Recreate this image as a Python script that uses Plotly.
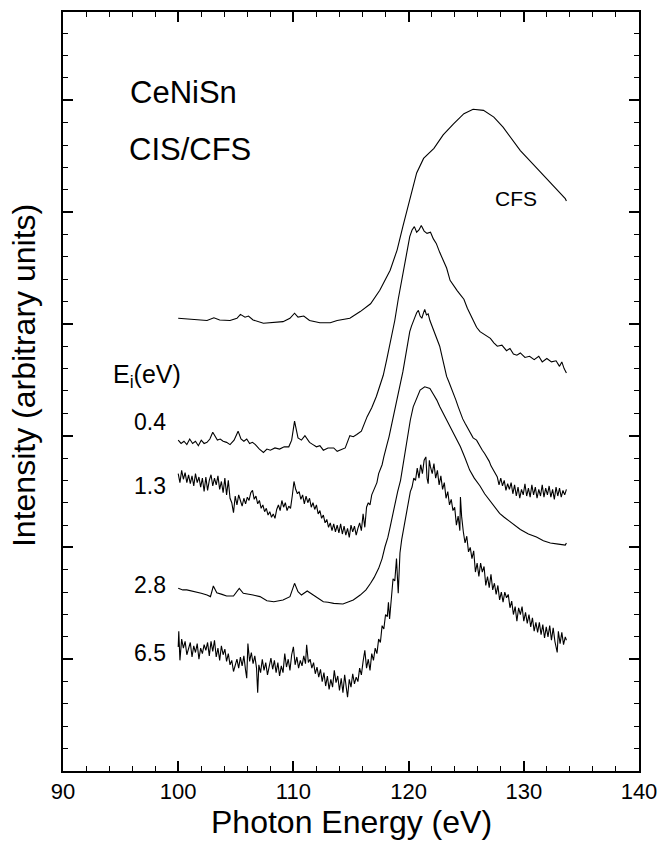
import plotly.graph_objects as go

# ---- data (photon energy in eV, intensity in arbitrary offset units) ----
x_cfs = [100.0, 101.6, 102.5, 103.1, 103.6, 104.5, 105.1, 105.4, 105.8, 106.1, 106.5, 107.4, 108.3, 109.1,
         109.7, 110.1, 110.4, 110.9, 111.4, 112.3, 113.2, 113.8, 114.9, 115.8, 116.7, 117.5, 118.4, 119.0,
         119.5, 120.1, 120.7, 121.3, 122.2, 123.0, 123.9, 124.8, 125.6, 126.5, 127.4, 128.2, 129.1, 129.7,
         130.8, 131.8, 132.7, 133.6, 133.7]
y_cfs = [4.05, 4.04, 4.03, 4.055, 4.035, 4.03, 4.05, 4.085, 4.06, 4.07, 4.035, 4.005, 4.01, 4.02,
         4.05, 4.095, 4.06, 4.07, 4.03, 4.01, 4.01, 4.03, 4.05, 4.11, 4.18, 4.30, 4.48, 4.66,
         4.87, 5.11, 5.35, 5.48, 5.57, 5.69, 5.79, 5.88, 5.92, 5.91, 5.85, 5.76, 5.64, 5.55,
         5.43, 5.32, 5.22, 5.12, 5.10]

x_04 = [100.0, 100.25, 100.5, 100.75, 101.0, 101.25, 101.5, 101.75, 102.0, 102.25, 102.5, 102.75, 103.0,
        103.2, 103.4, 103.65, 103.9, 104.2, 104.5, 104.85, 105.2, 105.45, 105.7, 105.95, 106.2, 106.45, 106.7,
        107.05, 107.4, 107.7, 108.0, 108.4, 108.8, 109.2, 109.6, 109.85, 110.1, 110.4, 110.7, 111.0, 111.2,
        111.4, 111.7, 112.0, 112.3, 112.6, 113.0, 113.5, 113.8, 114.1, 114.5, 114.9, 115.2, 115.5,
        115.9, 116.4, 116.8, 117.2, 117.5, 117.8, 118.1, 118.4, 118.8, 119.1, 119.5, 119.8, 120.1, 120.3,
        120.5, 120.7, 120.9, 121.1, 121.35, 121.6, 121.9, 122.15, 122.4, 122.7, 123.0,
        123.3, 123.6, 123.9, 124.2, 124.5, 124.8, 125.1, 125.5, 125.9, 126.2, 126.6, 127.1, 127.4, 127.7,
        128.1, 128.5, 128.8, 129.1, 129.4, 129.7, 130.1, 130.5, 130.9, 131.3, 131.6, 132.0, 132.4, 132.8,
        133.1, 133.3, 133.5, 133.7]
y_04 = [2.96, 2.93, 2.95, 2.92, 2.97, 2.93, 2.95, 2.91, 2.96, 2.93, 2.94, 2.97, 3.03,
        2.99, 2.96, 2.97, 2.95, 2.94, 2.92, 2.96, 3.04, 2.97, 2.95, 2.97, 2.93, 2.94, 2.92,
        2.88, 2.85, 2.88, 2.87, 2.89, 2.88, 2.90, 2.90, 2.96, 3.13, 2.98, 2.96, 3.00, 2.97,
        2.94, 2.92, 2.90, 2.91, 2.87, 2.89, 2.89, 2.86, 2.87, 2.89, 3.00, 2.99, 3.01,
        3.04, 3.17, 3.25, 3.35, 3.44, 3.54, 3.68, 3.83, 4.03, 4.22, 4.45, 4.62, 4.78, 4.84,
        4.87, 4.82, 4.84, 4.88, 4.83, 4.81, 4.82, 4.76, 4.72, 4.64, 4.57,
        4.50, 4.39, 4.34, 4.30, 4.26, 4.22, 4.14, 4.06, 3.97, 3.93, 3.90, 3.87, 3.83, 3.80,
        3.81, 3.76, 3.78, 3.73, 3.72, 3.74, 3.70, 3.71, 3.68, 3.71, 3.66, 3.69, 3.66, 3.67,
        3.62, 3.66, 3.60, 3.56]

x_13 = [100.0, 100.15, 100.3, 100.45, 100.6, 100.75, 100.9, 101.05, 101.2, 101.35, 101.5, 101.65, 101.8, 101.95,
        102.1, 102.25, 102.4, 102.55, 102.7, 102.85, 103.0, 103.15, 103.3, 103.45, 103.6, 103.75, 103.9, 104.05,
        104.2, 104.35, 104.5, 104.65, 104.8, 104.95, 105.1, 105.25, 105.4, 105.55, 105.7, 105.85, 106.0, 106.15,
        106.3, 106.45, 106.6, 106.75, 106.9, 107.05, 107.2, 107.35, 107.5, 107.65, 107.8, 107.95, 108.1, 108.25,
        108.4, 108.55, 108.7, 108.85, 109.0, 109.15, 109.3, 109.45, 109.6, 109.75, 109.9, 110.05, 110.2, 110.35,
        110.5, 110.65, 110.8, 110.95, 111.1, 111.25, 111.4, 111.55, 111.7, 111.85, 112.0, 112.15, 112.3, 112.45,
        112.6, 112.75, 112.9, 113.05, 113.2, 113.35, 113.5, 113.65, 113.8, 113.95, 114.1, 114.25, 114.4, 114.55,
        114.7, 114.85, 115.0, 115.15, 115.3, 115.45, 115.6, 115.75, 115.9, 116.05, 116.2, 116.35, 116.5, 116.65,
        116.8, 116.95, 117.1, 117.25, 117.4, 117.55, 117.7, 117.85, 118.0, 118.15, 118.3, 118.45, 118.6, 118.75,
        118.9, 119.05, 119.2, 119.35, 119.5, 119.65, 119.8, 119.95, 120.1, 120.25, 120.4, 120.55, 120.7, 120.85,
        121.0, 121.15, 121.3, 121.4, 121.55, 121.7, 121.85, 122.0, 122.15, 122.3, 122.5, 122.7, 122.9, 123.1,
        123.3, 123.5, 123.7, 123.9, 124.1, 124.3, 124.5, 124.7, 124.9, 125.05, 125.3, 125.6, 125.9, 126.05,
        126.2, 126.4, 126.6, 126.8, 127.0, 127.15, 127.3, 127.5, 127.7, 127.85, 128.0, 128.15, 128.3, 128.45,
        128.6, 128.75, 128.9, 129.05, 129.2, 129.35, 129.5, 129.65, 129.8, 129.95, 130.1, 130.25, 130.4, 130.55,
        130.7, 130.85, 131.0, 131.15, 131.3, 131.45, 131.6, 131.75, 131.9, 132.05, 132.2, 132.35, 132.5, 132.65,
        132.8, 132.95, 133.1, 133.25, 133.4, 133.55, 133.7]
y_13 = [2.66, 2.58, 2.69, 2.61, 2.67, 2.58, 2.65, 2.57, 2.64, 2.55, 2.66, 2.58, 2.63, 2.54,
        2.62, 2.50, 2.63, 2.51, 2.60, 2.65, 2.55, 2.62, 2.56, 2.64, 2.52, 2.59, 2.49, 2.62,
        2.47, 2.60, 2.44, 2.40, 2.31, 2.46, 2.38, 2.47, 2.42, 2.37, 2.44, 2.39, 2.45, 2.42,
        2.49, 2.51, 2.43, 2.46, 2.39, 2.42, 2.35, 2.38, 2.32, 2.35, 2.29, 2.32, 2.27, 2.30,
        2.26, 2.34, 2.38, 2.33, 2.42, 2.36, 2.40, 2.33, 2.37, 2.35, 2.46, 2.59, 2.52, 2.48,
        2.50, 2.43, 2.47, 2.39, 2.46, 2.40, 2.44, 2.36, 2.40, 2.34, 2.38, 2.30, 2.33, 2.26,
        2.29, 2.22, 2.25, 2.18, 2.22, 2.15, 2.21, 2.14, 2.20, 2.13, 2.21, 2.12, 2.19, 2.11,
        2.17, 2.09, 2.20, 2.14, 2.19, 2.11, 2.17, 2.22, 2.15, 2.30, 2.18, 2.36, 2.40, 2.38,
        2.47, 2.51, 2.55, 2.58, 2.66, 2.70, 2.74, 2.81, 2.86, 2.93, 2.99, 3.06, 3.14, 3.22,
        3.30, 3.37, 3.44, 3.50, 3.57, 3.66, 3.75, 3.87, 3.93, 3.98, 4.03, 4.06, 4.10, 4.12,
        4.07, 4.05, 4.10, 4.13, 4.08, 4.09, 4.03, 3.99, 3.95, 3.91, 3.85, 3.80, 3.71, 3.62,
        3.53, 3.48, 3.43, 3.38, 3.32, 3.26, 3.20, 3.15, 3.11, 3.08, 3.03, 2.98, 2.96, 2.93,
        2.90, 2.87, 2.84, 2.81, 2.77, 2.73, 2.70, 2.66, 2.63, 2.56, 2.62, 2.55, 2.60, 2.51,
        2.57, 2.52, 2.58, 2.48, 2.56, 2.46, 2.54, 2.44, 2.52, 2.47, 2.57, 2.46, 2.53, 2.45,
        2.56, 2.47, 2.54, 2.44, 2.52, 2.46, 2.56, 2.45, 2.53, 2.47, 2.55, 2.45, 2.52, 2.43,
        2.54, 2.46, 2.53, 2.45, 2.51, 2.47, 2.52]

x_28 = [100.0, 100.4, 100.75, 101.2, 101.6, 102.0, 102.5, 102.8, 103.05, 103.35, 103.8, 104.2, 104.8, 105.3,
        105.65, 106.1, 106.5, 107.1, 107.7, 108.3, 108.7, 109.1, 109.7, 110.1, 110.4, 110.7, 111.2, 111.7,
        112.3, 112.6, 113.0, 113.5, 114.3, 115.2, 115.8, 116.3, 116.7, 117.0, 117.4, 117.7, 117.95, 118.2,
        118.4, 118.6, 118.8, 119.05, 119.3, 119.6, 119.9, 120.15, 120.4, 120.7, 121.0, 121.4, 121.85, 122.15,
        122.45, 122.7, 123.0, 123.4, 123.9, 124.5, 124.9, 125.3, 125.7, 126.2, 126.6, 127.1, 127.5, 127.9,
        128.3, 128.8, 129.2, 129.7, 130.4, 131.1, 131.7, 132.3, 133.0, 133.6, 133.7]
y_28 = [1.634, 1.62, 1.62, 1.61, 1.604, 1.59, 1.574, 1.56, 1.655, 1.595, 1.58, 1.565, 1.565, 1.634,
        1.59, 1.585, 1.574, 1.56, 1.523, 1.514, 1.52, 1.53, 1.56, 1.679, 1.604, 1.574, 1.61, 1.574,
        1.536, 1.514, 1.51, 1.50, 1.494, 1.53, 1.574, 1.62, 1.679, 1.73, 1.813, 1.90, 2.006, 2.09,
        2.185, 2.29, 2.394, 2.50, 2.60, 2.80, 3.00, 3.14, 3.258, 3.34, 3.408, 3.437, 3.423, 3.37,
        3.318, 3.26, 3.199, 3.11, 3.021, 2.901, 2.80, 2.692, 2.62, 2.55, 2.48, 2.41, 2.36, 2.305,
        2.27, 2.23, 2.20, 2.16, 2.12, 2.093, 2.06, 2.039, 2.03, 2.021, 2.04]

x_65 = [100.0, 100.05, 100.15, 100.3, 100.45, 100.6, 100.75, 100.9, 101.05, 101.2, 101.35, 101.5, 101.65, 101.8,
        101.95, 102.1, 102.25, 102.4, 102.55, 102.7, 102.85, 103.0, 103.15, 103.3, 103.45, 103.6, 103.75, 103.9,
        104.05, 104.2, 104.35, 104.5, 104.65, 104.8, 104.95, 105.1, 105.25, 105.4, 105.55, 105.7, 105.85, 105.95,
        106.05, 106.2, 106.35, 106.5, 106.65, 106.8, 106.9, 107.0, 107.15, 107.3, 107.45, 107.6, 107.75, 107.9,
        108.05, 108.2, 108.35, 108.5, 108.65, 108.8, 108.95, 109.1, 109.25, 109.4, 109.55, 109.7, 109.85, 110.0,
        110.15, 110.3, 110.45, 110.6, 110.75, 110.9, 111.05, 111.15, 111.3, 111.45, 111.6, 111.75, 111.9, 112.05,
        112.2, 112.35, 112.5, 112.65, 112.8, 112.95, 113.1, 113.25, 113.4, 113.55, 113.7, 113.85, 114.0, 114.15,
        114.3, 114.45, 114.6, 114.7, 114.85, 115.0, 115.15, 115.3, 115.45, 115.6, 115.75, 115.9, 116.05, 116.2,
        116.35, 116.5, 116.65, 116.8, 116.95, 117.1, 117.25, 117.4, 117.55, 117.7, 117.85, 118.0, 118.15, 118.25,
        118.35, 118.5, 118.65, 118.8, 118.95, 119.1, 119.25, 119.4, 119.55, 119.7, 119.85, 120.0, 120.15, 120.3,
        120.45, 120.6, 120.75, 120.9, 121.05, 121.2, 121.35, 121.5, 121.6, 121.7, 121.8, 121.9, 122.05, 122.2,
        122.35, 122.5, 122.65, 122.8, 122.95, 123.1, 123.25, 123.4, 123.55, 123.7, 123.85, 124.0, 124.15, 124.3,
        124.45, 124.5, 124.6, 124.75, 124.9, 125.05, 125.2, 125.35, 125.5, 125.65, 125.8, 125.95, 126.1, 126.25,
        126.4, 126.55, 126.7, 126.85, 127.0, 127.15, 127.3, 127.45, 127.6, 127.75, 127.9, 128.05, 128.2, 128.35,
        128.5, 128.65, 128.8, 128.95, 129.1, 129.25, 129.4, 129.55, 129.7, 129.85, 130.0, 130.15, 130.3, 130.45,
        130.6, 130.75, 130.9, 131.05, 131.2, 131.35, 131.5, 131.65, 131.8, 131.95, 132.1, 132.25, 132.4, 132.55,
        132.7, 132.9, 133.0, 133.15, 133.3, 133.45, 133.6, 133.7]
y_65 = [1.11, 1.25, 0.99, 1.18, 1.10, 1.16, 1.04, 1.09, 1.15, 1.02, 1.12, 1.06, 1.14, 1.00,
        1.10, 1.05, 1.13, 1.08, 1.15, 1.03, 1.16, 1.07, 1.17, 1.02, 1.10, 0.99, 1.12, 1.04,
        1.09, 0.98, 1.05, 0.95, 0.99, 0.89, 0.94, 1.00, 0.92, 1.02, 0.94, 1.03, 0.90, 0.83,
        1.14, 0.98, 1.06, 0.96, 1.03, 0.92, 0.70, 0.95, 0.88, 1.00, 0.90, 0.97, 0.86, 0.95,
        1.01, 0.91, 0.99, 0.88, 0.97, 0.85, 0.94, 0.88, 1.05, 0.93, 1.00, 0.90, 1.04, 1.11,
        0.95, 1.02, 0.92, 0.99, 0.94, 1.03, 0.96, 1.13, 0.97, 1.00, 0.92, 0.97, 0.87, 0.93,
        0.84, 0.91, 0.80, 0.88, 0.76, 0.85, 0.73, 0.82, 0.75, 0.90, 0.79, 0.85, 0.72, 0.83,
        0.70, 0.86, 0.74, 0.66, 0.82, 0.75, 0.87, 0.78, 0.84, 0.80, 0.92, 0.86, 0.98, 1.08,
        0.92, 1.00, 0.90, 1.05, 0.99, 1.10, 1.05, 1.18, 1.15, 1.30, 1.27, 1.40, 1.38, 1.51,
        1.36, 1.58, 1.72, 1.70, 1.90, 1.59, 1.95, 2.07, 2.16, 2.23, 2.33, 2.39, 2.50, 2.54,
        2.62, 2.60, 2.71, 2.62, 2.74, 2.66, 2.78, 2.81, 2.62, 2.57, 2.78, 2.72, 2.66, 2.75,
        2.62, 2.69, 2.56, 2.64, 2.52, 2.58, 2.44, 2.50, 2.38, 2.43, 2.33, 2.36, 2.20, 2.28,
        2.15, 2.45, 2.28, 2.14, 2.04, 2.10, 1.96, 2.00, 1.90, 1.97, 1.78, 1.86, 1.74, 1.86,
        1.78, 1.83, 1.66, 1.74, 1.64, 1.76, 1.62, 1.68, 1.58, 1.66, 1.53, 1.60, 1.51, 1.60,
        1.55, 1.58, 1.46, 1.52, 1.40, 1.47, 1.34, 1.46, 1.40, 1.47, 1.34, 1.42, 1.32, 1.40,
        1.29, 1.37, 1.25, 1.33, 1.24, 1.33, 1.22, 1.31, 1.19, 1.29, 1.20, 1.30, 1.17, 1.28,
        1.16, 1.06, 1.25, 1.14, 1.24, 1.13, 1.20, 1.17]

series = [(x_cfs, y_cfs, "CFS"), (x_04, y_04, "0.4 eV"), (x_13, y_13, "1.3 eV"),
          (x_28, y_28, "2.8 eV"), (x_65, y_65, "6.5 eV")]

# text labels
ei_labels = ["0.4", "1.3", "2.8", "6.5"]
ei_label_y = [3.12, 2.55, 1.66, 1.06]

FONT = "Liberation Sans, Arial, Helvetica, sans-serif"

fig = go.Figure()
for xs, ys, name in series:
    fig.add_trace(go.Scatter(x=xs, y=ys, mode="lines", name=name,
                             line=dict(color="black", width=1.1), showlegend=False))
# empty trace so that the top / right frame axes get drawn
fig.add_trace(go.Scatter(x=[], y=[], xaxis="x2", yaxis="y2", showlegend=False, hoverinfo="skip"))

ann = [
    dict(x=95.65, y=6.07, text="CeNiSn", font=dict(size=31)),
    dict(x=95.55, y=5.56, text="CIS/CFS", font=dict(size=31)),
    dict(x=127.35, y=5.12, text="CFS", font=dict(size=21)),
    dict(x=94.2, y=3.53, text="E<sub>i</sub>(eV)", font=dict(size=25)),
]
for a in ann:
    a.update(xref="x", yref="y", xanchor="left", yanchor="middle", showarrow=False)
    a["font"].update(family=FONT, color="black")
for t, yv in zip(ei_labels, ei_label_y):
    ann.append(dict(x=99.1, y=yv, text=t, xref="x", yref="y", xanchor="right", yanchor="middle",
                    showarrow=False, font=dict(family=FONT, size=23, color="black")))
# axis titles
ann.append(dict(x=0.5, y=-0.0672, xref="paper", yref="paper", xanchor="center", yanchor="middle",
                text="Photon Energy (eV)", showarrow=False,
                font=dict(family=FONT, size=32, color="black")))
ann.append(dict(x=-0.0677, y=0.5204, xref="paper", yref="paper", xanchor="center", yanchor="middle",
                text="Intensity (arbitrary units)", textangle=-90, showarrow=False,
                font=dict(family=FONT, size=32, color="black")))

tick_common = dict(ticks="inside", ticklen=10, tickwidth=1.5, tickcolor="black",
                   showgrid=False, zeroline=False, automargin=False,
                   showline=True, linecolor="black", linewidth=1.6)
xminor = dict(dtick=2, ticklen=5, ticks="inside", tickcolor="black", tickwidth=1.3)
yminor = dict(dtick=0.2, ticklen=5, ticks="inside", tickcolor="black", tickwidth=1.3)

fig.update_layout(
    width=657, height=842,
    margin=dict(l=63, r=18, t=12, b=71),
    paper_bgcolor="white", plot_bgcolor="white",
    font=dict(family=FONT, color="black"),
    annotations=ann,
    hovermode=False,
    xaxis=dict(range=[90, 140], dtick=10, tick0=90,
               tickfont=dict(size=22, family=FONT, color="black"),
               ticklabeloverflow="allow", minor=xminor, **tick_common),
    xaxis2=dict(range=[90, 140], dtick=10, tick0=90, overlaying="x", side="top",
                showticklabels=False, minor=xminor, **tick_common),
    yaxis=dict(range=[0, 6.79], dtick=1, tick0=0, showticklabels=False,
               minor=yminor, **tick_common),
    yaxis2=dict(range=[0, 6.79], dtick=1, tick0=0, overlaying="y", side="right",
                showticklabels=False, minor=yminor, **tick_common),
)

# remove the page's default body margin so the 657x842 figure fills the window exactly
fig.write_html("out.html",
               config={"displayModeBar": False},
               post_script="document.body.style.margin='0';document.body.style.overflow='hidden';")
